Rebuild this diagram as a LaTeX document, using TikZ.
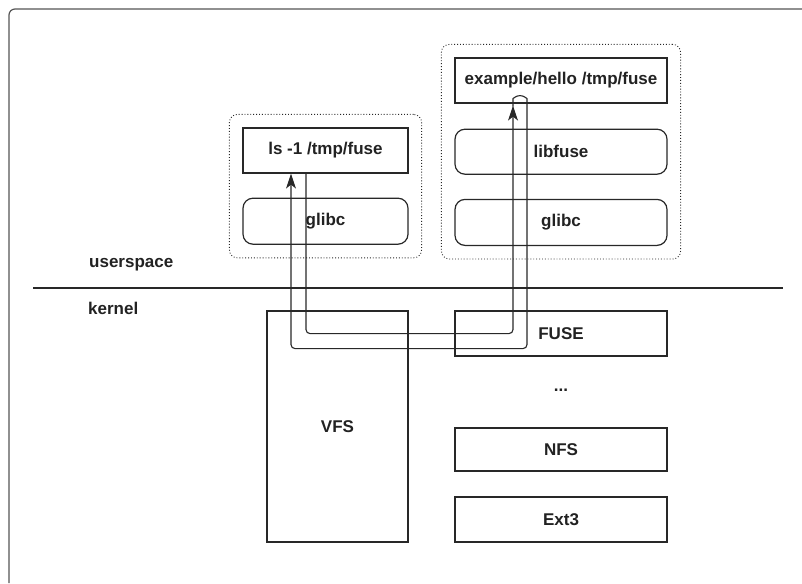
\documentclass[tikz,border=0pt]{standalone}
\usepackage{fontspec}
\setmainfont{Liberation Sans}
\usetikzlibrary{positioning,arrows.meta,fit}
\definecolor{InkGray}{RGB}{40,40,40}
\definecolor{TextGray}{RGB}{34,34,34}
\definecolor{FrameGray}{RGB}{85,85,85}
\tikzset{
  flow/.style={-{Stealth[length=15pt,width=10pt,inset=4pt]},line width=1.1pt,draw=InkGray},
  sqbox/.style={draw=InkGray,line width=1.2pt,fill=white,inner sep=0pt,
    font=\bfseries\fontsize{17}{20}\selectfont,text=TextGray},
  rndbox/.style={sqbox,rounded corners=10pt},
  group/.style={draw=InkGray,dotted,line width=0.9pt,rounded corners=8pt,inner sep=13pt},
  tag/.style={font=\bfseries\fontsize{17}{20}\selectfont,text=TextGray,anchor=base west,inner sep=0pt}
}
\begin{document}
\begin{tikzpicture}[x=1pt,y=-1pt]
  \useasboundingbox (0,0) rectangle (802,583);
  \draw[draw=FrameGray,line width=1.2pt,rounded corners=6pt] (802,9) -- (9,9) -- (9,583);
  \draw[draw=InkGray,line width=1.1pt] (33,288) -- (783,288);
  \node[tag] (user) at (89,267) {userspace};
  \node[tag] (kern) at (88,314) {kernel};

  \node[sqbox,minimum width=165pt,minimum height=45pt] (ls) at (325.5,150.5) {ls -1 /tmp/fuse};
  \node[rndbox,below=24pt of ls,minimum width=165pt,minimum height=46pt] (glibcL) {glibc};
  \node[group,fit=(ls)(glibcL)] (userL) {};

  \node[sqbox,minimum width=212pt,minimum height=45pt] (hello) at (561,80.5) {example/hello /tmp/fuse};
  \node[rndbox,below=25pt of hello,minimum width=212pt,minimum height=45pt] (libfuse) {libfuse};
  \node[rndbox,below=24pt of libfuse,minimum width=212pt,minimum height=46pt] (glibcR) {glibc};
  \node[group,fit=(hello)(glibcR)] (userR) {};

  \node[sqbox,minimum width=141pt,minimum height=231pt] (vfs) at (337.5,426.5) {VFS};
  \node[sqbox,minimum width=212pt,minimum height=45pt] (fuse) at (561,333.5) {FUSE};
  \node[tag,anchor=center] (more) at (561,390) {...};
  \node[sqbox,minimum width=212pt,minimum height=43pt] (nfs) at (561,449.5) {NFS};
  \node[sqbox,minimum width=212pt,minimum height=45pt] (ext) at (561,519.5) {Ext3};

  \coordinate (tip) at ([xshift=-48pt,yshift=-2pt]hello.south);
  \draw[flow,rounded corners=4pt] ([xshift=-19.5pt]ls.south) -- ++(0,160) -| (tip);
  \draw[flow,rounded corners=4pt] (tip) -- ++(0,-3)
    arc[start angle=180,end angle=0,radius=7pt] -- ++(0,246) -| ([xshift=-34.5pt]ls.south);
\end{tikzpicture}
\end{document}
